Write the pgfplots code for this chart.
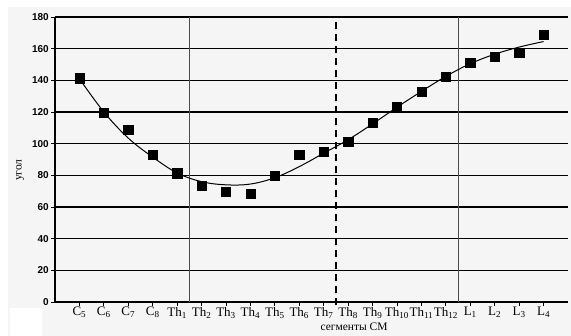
\documentclass[border=0pt]{standalone}
\usepackage{fontspec}
\setmainfont{Liberation Serif}
\newfontfamily\ticksans{Liberation Sans}
\usepackage{pgfplots}
\pgfplotsset{compat=1.18}
\usepackage{pgfplotstable}
\pgfplotstableread{
x y
1 141.3
2 119.8
3 108.6
4 92.8
5 81.3
6 73.3
7 69.7
8 68.2
9 79.6
10 92.8
11 95.0
12 101.3
13 113.3
14 123.4
15 132.8
16 142.3
17 151.2
18 155.0
19 157.5
20 168.7
}\points
\pgfplotstableread{
x y
1 141
2 120
3 103.5
4 91.5
5 81.5
6 76
7 74
8 74.5
9 78.5
10 85.5
11 94
12 102.5
13 112.5
14 123
15 133
16 142.5
17 150.5
18 156.5
19 161
20 164.5
}\trend
\begin{document}
\begin{tikzpicture}
\useasboundingbox (-55pt,-34pt) rectangle (516pt,302pt);
\fill[black!4] (-47pt,-34pt) rectangle (516pt,295pt);
\fill[white] (-45pt,-34pt) rectangle (-13pt,-6pt);
\begin{axis}[
  at={(0pt,0pt)}, anchor=south west,
  scale only axis, width=513pt, height=285pt,
  xmin=0, xmax=21, ymin=0, ymax=180,
  ytick={0,20,...,180},
  xtick={1,...,20},
  xticklabels={C\textsubscript{5},C\textsubscript{6},C\textsubscript{7},C\textsubscript{8},
    Th\textsubscript{1},Th\textsubscript{2},Th\textsubscript{3},Th\textsubscript{4},Th\textsubscript{5},Th\textsubscript{6},
    Th\textsubscript{7},Th\textsubscript{8},Th\textsubscript{9},Th\textsubscript{10},Th\textsubscript{11},Th\textsubscript{12},
    L\textsubscript{1},L\textsubscript{2},L\textsubscript{3},L\textsubscript{4}},
  /pgf/number format/assume math mode=true,
  axis x line*=bottom, axis y line*=left,
  axis line style={-, black, line width=1.2pt},
  ymajorgrids, grid style={black, line width=1.1pt},
  tick style={black, line width=0.8pt},
  tick align=outside, major tick length=4pt,
  yticklabel style={font=\ticksans\bfseries\fontsize{10}{11}\selectfont, inner sep=2pt},
  xticklabel style={font=\fontsize{13}{14}\selectfont, inner sep=1pt},
  xlabel={сегменты СМ},
  xlabel style={font=\fontsize{11.5}{12}\selectfont, at={(axis description cs:0.583,0)}, anchor=north, yshift=-21pt, inner sep=0pt},
  ylabel={угол},
  ylabel style={font=\fontsize{11.5}{12}\selectfont, at={(axis description cs:-0.068,0.463)}, anchor=center},
  clip=false,
]
\addplot[black!70, line width=0.8pt] coordinates {(5.5,0) (5.5,180)};
\addplot[black!70, line width=0.8pt] coordinates {(16.5,0) (16.5,180)};
\addplot[black, line width=1.4pt, dash pattern=on 7pt off 5pt] coordinates {(11.5,-2) (11.5,180)};
\addplot[black, line width=1pt, smooth, tension=0.6, no marks] table[x=x,y=y] {\trend};
\addplot[only marks, mark=square*, mark size=4.6pt, mark options={fill=black, draw=black}] table[x=x,y=y] {\points};
\end{axis}
\end{tikzpicture}
\end{document}
